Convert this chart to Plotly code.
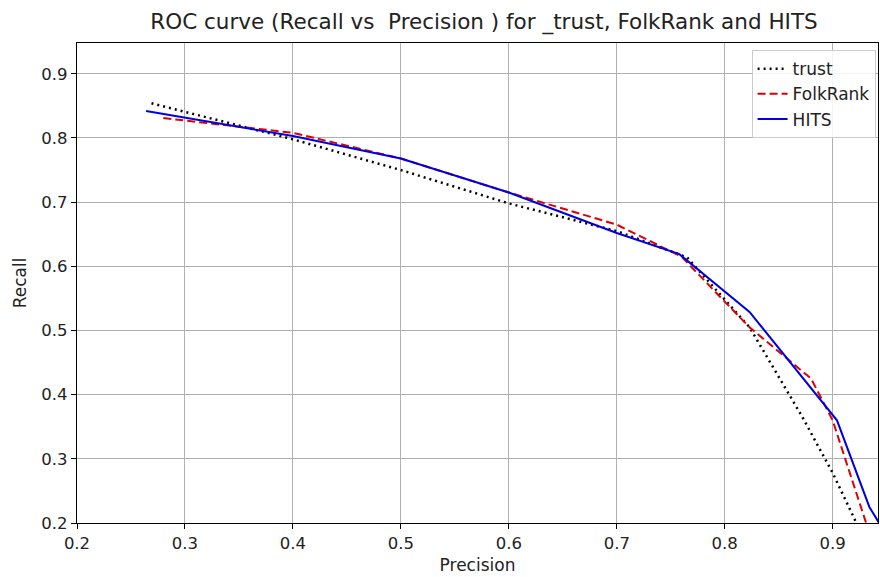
import plotly.graph_objects as go

trust_p = [0.269, 0.4, 0.5, 0.6, 0.7, 0.765, 0.823, 0.872, 0.9, 0.922]
trust_r = [0.854, 0.798, 0.75, 0.698, 0.655, 0.614, 0.505, 0.365, 0.278, 0.2]

folk_p = [0.28, 0.4, 0.5, 0.6, 0.7, 0.76, 0.8, 0.823, 0.88, 0.9, 0.931]
folk_r = [0.831, 0.808, 0.768, 0.715, 0.665, 0.615, 0.545, 0.505, 0.425, 0.36, 0.2]

hits_p = [0.264, 0.4, 0.5, 0.6, 0.7, 0.758, 0.823, 0.904, 0.934, 0.943]
hits_r = [0.842, 0.803, 0.768, 0.715, 0.652, 0.619, 0.529, 0.36, 0.225, 0.2]

x_ticks = [0.2, 0.3, 0.4, 0.5, 0.6, 0.7, 0.8, 0.9]
y_ticks = [0.2, 0.3, 0.4, 0.5, 0.6, 0.7, 0.8, 0.9]

fig = go.Figure()
fig.add_trace(go.Scatter(x=trust_p, y=trust_r, mode="lines", name="trust",
                         line=dict(color="black", width=2.5, dash="2px,4px")))
fig.add_trace(go.Scatter(x=folk_p, y=folk_r, mode="lines", name="FolkRank",
                         line=dict(color="#e00000", width=2, dash="8px,4px")))
fig.add_trace(go.Scatter(x=hits_p, y=hits_r, mode="lines", name="HITS",
                         line=dict(color="#0000e0", width=2)))

axis_common = dict(showline=True, linecolor="black", linewidth=1.2, mirror=True,
                   ticks="outside", ticklen=5, tickcolor="black", automargin=False,
                   showgrid=True, gridcolor="#b0b0b0", gridwidth=1, zeroline=False,
                   tickfont=dict(family="DejaVu Sans", size=16.5, color="#222"))

fig.update_layout(
    width=880, height=577,
    margin=dict(l=77, r=2, t=43, b=54, autoexpand=False),
    paper_bgcolor="white", plot_bgcolor="white",
    title=dict(text="ROC curve (Recall vs  Precision ) for _trust, FolkRank and HITS",
               x=484 / 880, xanchor="center", xref="container",
               y=1 - 21 / 577, yanchor="middle", automargin=False,
               font=dict(family="DejaVu Sans", size=21.5, color="#222")),
    xaxis=dict(range=[0.2, 0.942], tickvals=x_ticks, ticktext=[str(v) for v in x_ticks],
               title=dict(text="Precision", standoff=7,
                          font=dict(family="DejaVu Sans", size=17, color="#222")),
               **axis_common),
    yaxis=dict(range=[0.2, 0.948], tickvals=y_ticks, ticktext=[str(v) for v in y_ticks],
               title=dict(text="Recall", standoff=10,
                          font=dict(family="DejaVu Sans", size=17, color="#222")),
               **axis_common),
    legend=dict(x=0.997, y=0.985, xanchor="right", yanchor="top",
                bgcolor="rgba(255,255,255,0.85)", bordercolor="#cccccc", borderwidth=1,
                font=dict(family="DejaVu Sans", size=17, color="#222"),
                tracegroupgap=0),
    showlegend=True,
)

fig.write_html("out.html", config={"displayModeBar": False},
               post_script="document.body.style.margin='0';document.body.style.overflow='hidden';")
